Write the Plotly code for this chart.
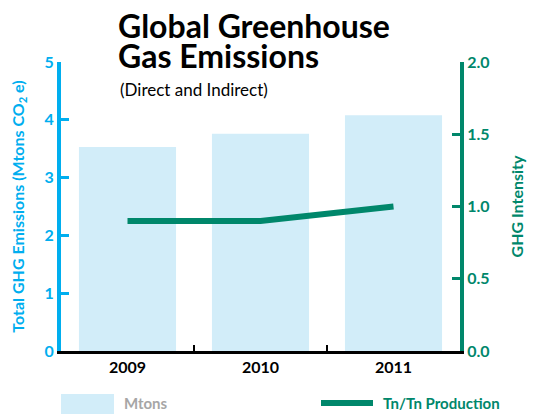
import plotly.graph_objects as go

years = ["2009", "2010", "2011"]
mtons = [3.53, 3.76, 4.08]
intensity = [0.9, 0.9, 1.0]
left_ticks = [0, 1, 2, 3, 4, 5]
right_ticks = [0.0, 0.5, 1.0, 1.5, 2.0]

BLUE = "#00AEEF"
TEAL = "#00876B"
BAR = "#D2EDF9"
FONT = "Lato"

L, R, T, B = 61, 460, 62, 351
PW, PH = R - L, B - T


def px(x):
    return (x - L) / PW


def py(y):
    return (B - y) / PH


fig = go.Figure()
fig.add_trace(go.Bar(x=years, y=mtons, marker=dict(color=BAR, line=dict(width=0)),
                     name="Mtons", yaxis="y", showlegend=False))
fig.add_trace(go.Scatter(x=years, y=intensity, mode="lines", line=dict(color=TEAL, width=6),
                         name="Tn/Tn Production", yaxis="y2", showlegend=False))

fig.update_layout(
    width=534, height=414,
    margin=dict(l=L, r=534 - R, t=T, b=414 - B, autoexpand=False),
    paper_bgcolor="white", plot_bgcolor="white",
    bargap=0.27,
    font=dict(family=FONT),
    xaxis=dict(
        type="category", showline=True, linecolor="black", linewidth=3,
        ticks="inside", tickson="boundaries", ticklen=6, tickcolor="black", tickwidth=1.5,
        tickfont=dict(size=16, color="black", family=FONT, weight="bold"),
        showgrid=False, zeroline=False, automargin=False,
    ),
    yaxis=dict(
        range=[0, 5], tickvals=left_ticks, ticktext=[str(v) for v in left_ticks],
        showline=True, linecolor=BLUE, linewidth=4,
        ticks="inside", ticklen=8, tickwidth=3, tickcolor=BLUE,
        tickfont=dict(size=16, color=BLUE, family=FONT, weight="bold"),
        showgrid=False, zeroline=False, automargin=False,
        title=dict(text="Total GHG Emissions (Mtons CO<sub>2</sub> e)",
                   font=dict(size=16, color=BLUE, family=FONT, weight="bold"), standoff=17),
    ),
    yaxis2=dict(
        range=[0, 2], overlaying="y", side="right",
        tickvals=right_ticks, ticktext=[f"{v:.1f}" for v in right_ticks],
        showline=True, linecolor=TEAL, linewidth=4,
        ticks="inside", ticklen=8, tickwidth=3, tickcolor=TEAL,
        tickfont=dict(size=16, color=TEAL, family=FONT, weight="bold"),
        showgrid=False, zeroline=False, automargin=False,
        title=dict(text="GHG Intensity",
                   font=dict(size=16, color=TEAL, family=FONT, weight="bold"), standoff=24),
    ),
    annotations=[
        dict(text="Global Greenhouse", xref="paper", yref="paper",
             x=px(116), y=py(25), xanchor="left", yanchor="middle",
             showarrow=False, font=dict(size=32, color="black", family=FONT, weight="bold")),
        dict(text="Gas Emissions", xref="paper", yref="paper",
             x=px(116), y=py(56), xanchor="left", yanchor="middle",
             showarrow=False, font=dict(size=32, color="black", family=FONT, weight="bold")),
        dict(text="(Direct and Indirect)", xref="paper", yref="paper",
             x=px(118), y=py(89), xanchor="left", yanchor="middle",
             showarrow=False, font=dict(size=17, color="black", family=FONT)),
        dict(text="Mtons", xref="paper", yref="paper",
             x=px(122), y=py(403), xanchor="left", yanchor="middle",
             showarrow=False, font=dict(size=15, color="#A6A6A6", family=FONT, weight="bold")),
        dict(text="Tn/Tn Production", xref="paper", yref="paper",
             x=px(381), y=py(403), xanchor="left", yanchor="middle",
             showarrow=False, font=dict(size=15, color=TEAL, family=FONT, weight="bold")),
    ],
    shapes=[
        dict(type="rect", xref="paper", yref="paper",
             x0=px(61), x1=px(114), y0=py(416), y1=py(394),
             fillcolor=BAR, line=dict(width=0)),
        dict(type="line", xref="paper", yref="paper",
             x0=px(321), x1=px(373), y0=py(403), y1=py(403),
             line=dict(color=TEAL, width=6)),
    ],
)

fig.write_html("out.html", config={"displayModeBar": False},
               post_script="document.body.style.margin='0';document.body.style.padding='0';")
